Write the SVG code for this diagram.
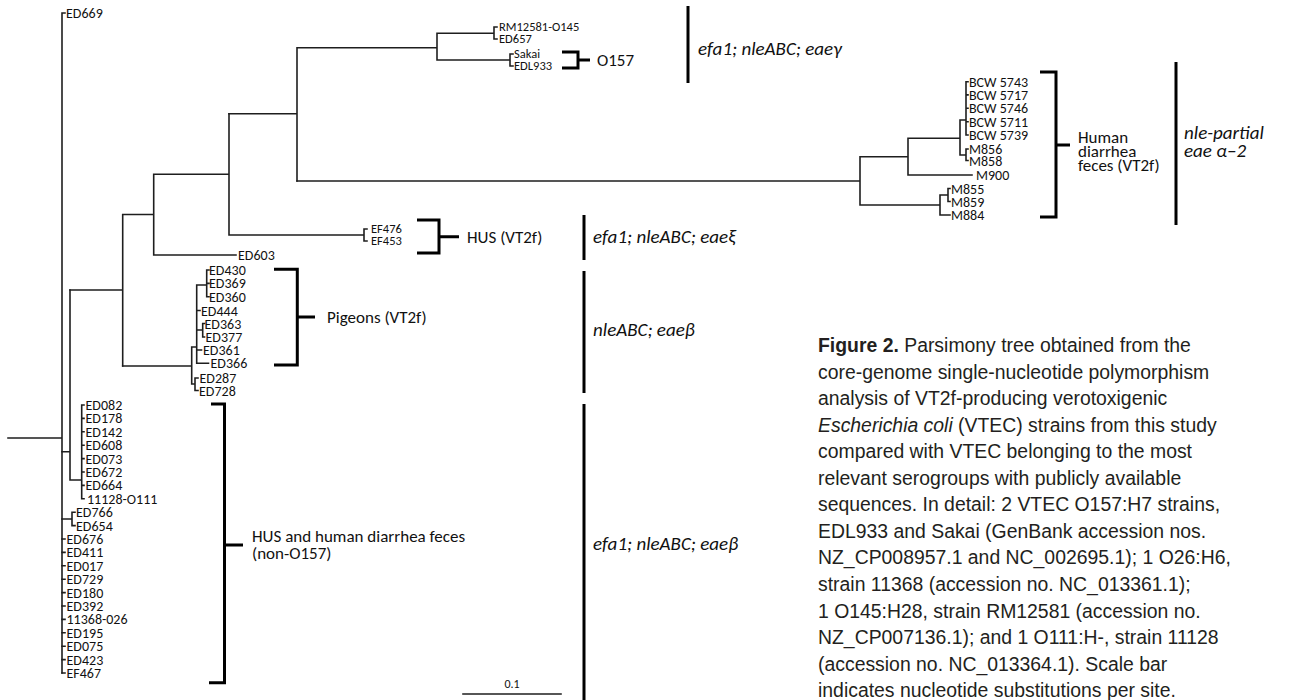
<svg xmlns="http://www.w3.org/2000/svg" width="1300" height="700" viewBox="0 0 1300 700">
<style>
.br{fill:none;stroke:#1e1e1e;stroke-width:1.6;stroke-linecap:square}
.bk{fill:none;stroke:#000;stroke-width:3}
.lb{font-family:Carlito,Lato,"Liberation Sans",sans-serif;font-size:14px;fill:#111}
.sm{font-size:12.5px}
.gp{font-family:Carlito,Lato,"Liberation Sans",sans-serif;font-size:17px;fill:#111}
.it{font-family:Carlito,Lato,"Liberation Sans",sans-serif;font-size:19px;font-style:italic;fill:#111}
.cap{font-family:"Liberation Sans",Arial,sans-serif;font-size:19.4px;fill:#231f20}
.sc{font-family:Carlito,Lato,"Liberation Sans",sans-serif;font-size:12px;fill:#111}
</style>
<rect width="1300" height="700" fill="#fff"/>
<g id="connectors">
<path class="br" d="M8,438H62M62,13V673M62,13H65"/>
<path class="br" d="M62,539H65M62,552.4H65M62,565.8H65M62,579.2H65M62,592.6H65M62,606H65M62,619.4H65M62,632.8H65M62,646.2H65M62,659.6H65M62,673H65"/>
<path class="br" d="M62,451.7H70M70,290V480M70,480H81.7M81.7,405V498.8M81.7,405H84M81.7,418.4H84M81.7,431.8H84M81.7,445.2H84M81.7,458.6H84M81.7,472H84M81.7,485.4H84M81.7,498.8H84"/>
<path class="br" d="M62,519H72M72,512.2V525.6M72,512.2H75M72,525.6H75"/>
<path class="br" d="M70,290H122.7M122.7,214.5V366M122.7,214.5H153.7M153.7,174.3V255M153.7,255H236M153.7,174.3H229M229,113.7V235M229,235H364M364,229V241M364,229H367M364,241H367"/>
<path class="br" d="M122.7,366H191.7M191.7,347V384M191.7,384H195M195,378V390.5M195,378H198M195,390.5H198M191.7,347H196.7M196.7,285V363.3M196.7,285H206.7M206.7,270V296.7M206.7,270H209M206.7,283.4H209M206.7,296.7H209M196.7,310.5H200M196.7,330H202.7M202.7,323.5V337M202.7,323.5H204.5M202.7,337H204.5M196.7,350H201.5M196.7,363.3H208.5"/>
<path class="br" d="M229,113.7H297M297,47.7V181M297,47.7H437M437,33.3V60M437,33.3H494M494,27V39M494,27H497M494,39H497M437,60H510M510,54V66M510,54H513M510,66H513"/>
<path class="br" d="M297,181H860M860,156.7V205M860,156.7H908M908,138.3V175M908,138.3H960M960,120V155M960,120H966M966,81.7V135M966,81.7H968M966,94.9H968M966,108.3H968M966,121.7H968M966,135H968M960,155H966M966,149V160.5M966,149H968M966,160.5H968M908,175H972M860,205H940M940,195V215M940,195H948M948,188.5V201.5M948,188.5H950M948,201.5H950M940,215H950"/>
<path class="bk" d="M562,52H578V68H562M578,60H590"/>
<path class="bk" d="M1040,72H1056V217H1040M1056,145H1070"/>
<path class="bk" d="M417,220H439V253H417M439,236.7H459"/>
<path class="bk" d="M274,269.3H297.3V365H274M297.3,317H315"/>
<path class="bk" d="M211,404H224.5V682.7H209M224.5,545H243"/>
<path class="bk" d="M688,6V83M1176,62V225M584,215V260M584,271V393M584,404V700"/>
<path class="br" d="M463,694H561"/>
</g>
<g id="leaves-top">
<text class="lb" x="66" y="18">ED669</text>
<text class="lb sm" x="499" y="31">RM12581-O145</text>
<text class="lb sm" x="499" y="43">ED657</text>
<text class="lb sm" x="514" y="58">Sakai</text>
<text class="lb sm" x="514" y="70">EDL933</text>
<text class="lb sm" x="371" y="233">EF476</text>
<text class="lb sm" x="371" y="245">EF453</text>
<text class="lb" x="238" y="260">ED603</text>
</g>
<g id="leaves-right">
<text class="lb" x="969" y="86.5">BCW 5743</text>
<text class="lb" x="969" y="99.9">BCW 5717</text>
<text class="lb" x="969" y="113.3">BCW 5746</text>
<text class="lb" x="969" y="126.7">BCW 5711</text>
<text class="lb" x="969" y="140">BCW 5739</text>
<text class="lb" x="969" y="154">M856</text>
<text class="lb" x="969" y="165.5">M858</text>
<text class="lb" x="976" y="180">M900</text>
<text class="lb" x="951" y="193.5">M855</text>
<text class="lb" x="951" y="206.5">M859</text>
<text class="lb" x="951" y="220">M884</text>
</g>
<g id="leaves-pigeons">
<text class="lb" x="209" y="275">ED430</text>
<text class="lb" x="209" y="288.4">ED369</text>
<text class="lb" x="209" y="301.7">ED360</text>
<text class="lb" x="201" y="315.5">ED444</text>
<text class="lb" x="204.5" y="328.5">ED363</text>
<text class="lb" x="205.5" y="342">ED377</text>
<text class="lb" x="203" y="355">ED361</text>
<text class="lb" x="210.5" y="368.3">ED366</text>
<text class="lb" x="199.5" y="383">ED287</text>
<text class="lb" x="199" y="395.5">ED728</text>
</g>
<g id="leaves-lower">
<text class="lb" x="85.5" y="410">ED082</text>
<text class="lb" x="85.5" y="423.4">ED178</text>
<text class="lb" x="85.5" y="436.8">ED142</text>
<text class="lb" x="85.5" y="450.2">ED608</text>
<text class="lb" x="85.5" y="463.6">ED073</text>
<text class="lb" x="85.5" y="477">ED672</text>
<text class="lb" x="85.5" y="490.4">ED664</text>
<text class="lb" x="87" y="503.8">11128-O111</text>
<text class="lb" x="76" y="517.2">ED766</text>
<text class="lb" x="76" y="530.6">ED654</text>
<text class="lb" x="66.5" y="544">ED676</text>
<text class="lb" x="66.5" y="557.4">ED411</text>
<text class="lb" x="66.5" y="570.8">ED017</text>
<text class="lb" x="66.5" y="584.2">ED729</text>
<text class="lb" x="66.5" y="597.6">ED180</text>
<text class="lb" x="66.5" y="611">ED392</text>
<text class="lb" x="66.5" y="624.4">11368-026</text>
<text class="lb" x="66.5" y="637.8">ED195</text>
<text class="lb" x="66.5" y="651.2">ED075</text>
<text class="lb" x="66.5" y="664.6">ED423</text>
<text class="lb" x="66.5" y="678">EF467</text>
</g>
<g id="group-o157"><text class="gp" x="597" y="66">O157</text></g>
<g id="group-human"><text class="gp" x="1078" y="143">Human</text><text class="gp" x="1078" y="157">diarrhea</text><text class="gp" x="1078" y="171">feces (VT2f)</text></g>
<g id="group-hus"><text class="gp" x="467" y="243">HUS (VT2f)</text></g>
<g id="group-pigeons"><text class="gp" x="327" y="323">Pigeons (VT2f)</text></g>
<g id="group-lower"><text class="gp" x="252" y="542">HUS and human diarrhea feces</text><text class="gp" x="252" y="559">(non-O157)</text></g>
<g id="annotations">
<text class="it" x="698" y="55">efa1; nleABC; eaeγ</text>
<text class="it" x="1184" y="139">nle-partial</text>
<text class="it" x="1184" y="157">eae α–2</text>
<text class="it" x="593" y="243">efa1; nleABC; eaeξ</text>
<text class="it" x="593" y="336">nleABC; eaeβ</text>
<text class="it" x="593" y="550">efa1; nleABC; eaeβ</text>
</g>
<g id="scale"><text class="sc" x="512" y="688" text-anchor="middle">0.1</text></g>
<g id="caption">
<text class="cap" x="818" y="352"><tspan font-weight="bold">Figure 2.</tspan> Parsimony tree obtained from the</text>
<text class="cap" x="818" y="378.5">core-genome single-nucleotide polymorphism</text>
<text class="cap" x="818" y="405">analysis of VT2f-producing verotoxigenic</text>
<text class="cap" x="818" y="431.6"><tspan font-style="italic">Escherichia coli</tspan> (VTEC) strains from this study</text>
<text class="cap" x="818" y="458.2">compared with VTEC belonging to the most</text>
<text class="cap" x="818" y="484.7">relevant serogroups with publicly available</text>
<text class="cap" x="818" y="511.3">sequences. In detail: 2 VTEC O157:H7 strains,</text>
<text class="cap" x="818" y="537.8">EDL933 and Sakai (GenBank accession nos.</text>
<text class="cap" x="818" y="564.4">NZ_CP008957.1 and NC_002695.1); 1 O26:H6,</text>
<text class="cap" x="818" y="591">strain 11368 (accession no. NC_013361.1);</text>
<text class="cap" x="818" y="617.5">1 O145:H28, strain RM12581 (accession no.</text>
<text class="cap" x="818" y="644">NZ_CP007136.1); and 1 O111:H-, strain 11128</text>
<text class="cap" x="818" y="670.6">(accession no. NC_013364.1). Scale bar</text>
<text class="cap" x="818" y="697">indicates nucleotide substitutions per site.</text>
</g>
</svg>
